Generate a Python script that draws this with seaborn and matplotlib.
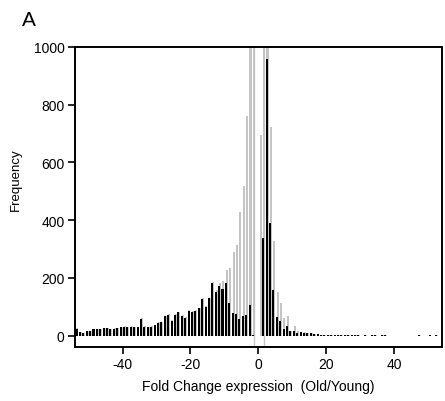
import numpy as np
import pandas as pd
import matplotlib
matplotlib.use("Agg")
import matplotlib.pyplot as plt
import seaborn as sns

# bin centres (fold change), half-integers from -53.5 to 53.5
centers = np.arange(-53.5, 54.0, 1.0)

black_left = [25, 13, 10, 17, 17, 22, 22, 23, 26, 26, 22, 25, 27, 30, 32, 30, 32, 30, 30,
              58, 32, 31, 32, 37, 45, 47, 68, 73, 52, 72, 81, 70, 63, 87, 82, 87, 95, 129,
              100, 130, 184, 150, 173, 163, 184, 113, 78, 75, 58, 69, 72, 106, 3]
black_mid = [0, 0]
black_right = [337, 957, 392, 159, 64, 52, 23, 34, 15, 18, 10, 12, 10, 9, 8, 6, 5,
               3, 3, 3, 3, 3, 3, 3, 3, 3, 3, 3, 3,
               0, 3, 0, 3, 3, 0, 3, 3, 0, 0, 0, 0, 0, 0, 0, 0, 0, 3, 0, 0, 3, 0, 3, 0]

grey_left = [26, 14, 11, 18, 18, 23, 23, 24, 27, 27, 23, 26, 28, 31, 33, 31, 33, 31, 31,
             60, 33, 32, 33, 38, 46, 48, 70, 75, 54, 74, 83, 72, 65, 89, 84, 89, 97, 131,
             102, 132, 186, 160, 183, 190, 228, 233, 289, 316, 428, 520, 760, 1600, 1400]
grey_mid = [0, 695]
grey_right = [1500, 1200, 723, 328, 152, 113, 61, 69, 17, 34, 15, 14, 12, 10, 9, 7, 6,
              3, 3, 3, 3, 3, 3, 3, 3, 3, 3, 3, 3,
              0, 3, 0, 3, 3, 0, 3, 3, 0, 0, 0, 0, 0, 0, 0, 0, 0, 3, 0, 0, 3, 0, 3, 0]

black = np.array(black_left + black_mid + black_right, dtype=float)
grey = np.array(grey_left + grey_mid + grey_right, dtype=float)

x_ticks = [-40, -20, 0, 20, 40]
y_ticks = [0, 200, 400, 600, 800, 1000]
ref_lines = [-1.4, 1.55]

sns.set_style("white")
plt.rcParams["font.family"] = ["Liberation Sans", "DejaVu Sans"]

fig = plt.figure(figsize=(4.45, 4.02), dpi=100)
ax = fig.add_axes([0.1685, 0.1343, 0.824, 0.7463])

df_grey = pd.DataFrame({"fc": centers + 0.2, "n": grey})
df_black = pd.DataFrame({"fc": centers - 0.05, "n": black})

sns.barplot(data=df_grey, x="fc", y="n", native_scale=True, orient="x", width=0.6,
            color="#c4c4c4", saturation=1, linewidth=0, edgecolor="none",
            errorbar=None, ax=ax)
sns.barplot(data=df_black, x="fc", y="n", native_scale=True, orient="x", width=0.6,
            color="black", saturation=1, linewidth=0, edgecolor="none",
            errorbar=None, ax=ax)

for v in ref_lines:
    ax.axvline(v, color="#c8c8c8", lw=1.0, zorder=0)

ax.set_xlim(-54, 54)
ax.set_ylim(-39, 1000)
ax.set_xticks(x_ticks)
ax.set_xticklabels([str(t) for t in x_ticks])
ax.set_yticks(y_ticks)
ax.set_yticklabels([str(t) for t in y_ticks])
ax.tick_params(axis="both", direction="out", length=5, width=1.2, labelsize=10,
               colors="black", bottom=True, left=True, pad=2.5)
for s in ax.spines.values():
    s.set_visible(True)
    s.set_color("black")
    s.set_linewidth(1.4)

ax.set_xlabel("Fold Change expression  (Old/Young)", fontsize=10, color="black")
ax.xaxis.set_label_coords(0.5, -0.105)
ax.set_ylabel("Frequency", fontsize=9.5, color="black")
ax.yaxis.set_label_coords(-0.145, 0.56)
fig.text(0.049, 0.948, "A", fontsize=15, ha="left", va="center", color="black")

fig.savefig("out.png", dpi=100)
